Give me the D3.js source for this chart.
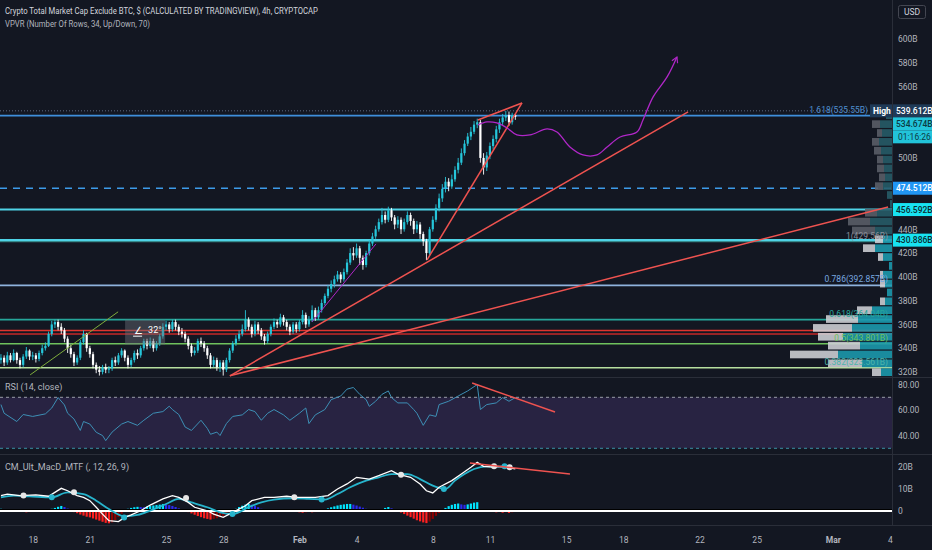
<!DOCTYPE html>
<html>
<head>
<meta charset="utf-8">
<script src="https://cdn.jsdelivr.net/npm/d3@7"></script>
<style>
html, body { margin: 0; padding: 0; background: #131722; }
svg { display: block; font-family: "Roboto", "Noto Sans", sans-serif; }
</style>
</head>
<body>
<svg id="chart" width="932" height="550"></svg>
<script>
// ---- data (4h candles, TOTAL2, Jan 16 - Feb 12 2021) ----
var firstCandle = new Date(2021, 0, 16, 8);
var firstOpen = 330;
var closes = [332,328,334,330,
  336,330,326,333,338,333, 334,331,336,340,342,352, 360,362,358,355,348,340,
  335,328,332,345,352,340, 335,326,322,320,324,322, 323,330,328,334,338,332,
  326,330,336,334,340,346, 342,346,340,344,350,358, 360,356,362,358,354,352,
  348,342,336,338,346,344, 340,334,326,330,324,328, 322,330,338,344,348,352,
  356,364,358,352,360,355, 350,346,352,358,362,360, 366,362,358,354,360,356,
  362,368,360,364,372,366, 372,378,384,390,394,398, 402,398,404,412,420,418,
  424,416,410,420,428,434, 440,446,452,448,456,450, 444,448,440,446,452,447,
  440,444,436,430,420,440, 448,458,466,474,480,476, 482,490,496,504,512,518,
  522,528,530,500,492,502, 510,516,524,530,534,536, 530,536,534.67];
var highs = [335,334,337,336,
  339,337,332,335,341,339, 337,336,338,343,345,354, 363,364,364,361,357,350,
  343,337,334,347,355,353, 342,337,328,325,326,327, 325,332,333,336,340,339,
  334,332,338,339,342,348, 348,349,348,346,352,361, 363,362,364,364,360,357,
  354,350,344,341,348,349, 346,342,336,333,332,330, 330,332,340,346,351,355,
  360,372,366,360,363,362, 357,352,354,360,365,364, 369,368,364,360,362,362,
  364,372,370,367,376,374, 375,381,386,393,397,401, 405,404,407,415,424,425,
  428,426,418,422,431,437, 443,449,458,455,459,458, 452,451,450,449,455,454,
  449,447,446,438,432,442, 451,461,470,478,484,483, 486,493,500,508,515,521,
  526,531,533,532,504,505, 513,519,527,533,537,539.6, 539,538,537];
var lows = [327,325,326,328,
  329,327,323,324,331,330, 330,328,329,334,338,341, 350,357,355,352,345,336,
  332,325,326,330,343,337, 332,323,319,317,318,319, 319,321,325,326,332,329,
  323,324,328,331,332,338, 339,340,337,338,342,348, 355,353,354,355,351,349,
  345,339,333,334,336,341, 337,331,323,324,321,320, 317,320,328,336,342,346,
  350,354,355,349,350,352, 347,343,344,350,356,357, 358,359,355,351,352,353,
  354,360,357,358,362,363, 364,370,376,382,387,391, 396,395,396,402,410,414,
  416,410,406,408,418,426, 432,438,444,445,446,447, 440,441,436,438,444,443,
  436,437,432,426,414,418, 438,446,455,463,471,472, 474,480,487,494,502,510,
  515,520,525,496,486,489, 499,507,513,521,527,531, 527,528,532];

// price scale ticks (the ones not hidden behind tags) / time ticks
var priceTicks = [600,580,560,500,440,420,400,380,360,340,320];
var timeTicks = [new Date(2021,0,18), new Date(2021,0,21), new Date(2021,0,25), new Date(2021,0,28),
  new Date(2021,1,1), new Date(2021,1,4), new Date(2021,1,8), new Date(2021,1,11), new Date(2021,1,15),
  new Date(2021,1,18), new Date(2021,1,22), new Date(2021,1,25), new Date(2021,2,1), new Date(2021,2,4)];

// horizontal levels (fib + drawn lines)
var levelPrices = [535.55, 474.512, 456.592, 430.886, 429.56, 392.857, 364.04, 354.9, 351.9, 343.801, 323.561];
var levelColors = ["#3f8fdc","#3d9be9","#4fd3e6","#4fd3e6","#3fa7a7","#8fb3de","#26a69a","#e0352f","#c62828","#6fc25d","#b7e0a0"];
var fibTexts = ["1.618(535.55B)", "1(429.56B)", "0.786(392.857B)", "0.618(364.04B)", "0.5(343.801B)", "0.382(323.561B)"];
var fibPrices = [535.55, 429.56, 392.857, 364.04, 343.801, 323.561];
var fibColors = ["#4f8fd0", "#8a8f99", "#79a9e0", "#26a69a", "#6fc25d", "#4db6ac"];

// right scale tags
var tagPrices = [539.612, 534.674, 474.512, 456.592, 430.886];
var tagTexts = ["539.612B", "534.674B", "474.512B", "456.592B", "430.886B"];
var tagBg = ["#1f3a57", "#22c4da", "#2196f3", "#18e3f2", "#18e3f2"];
var tagFg = ["#ffffff", "#0c3b44", "#ffffff", "#0b2b30", "#0b2b30"];

// drawings: [candle index, price]
var trendA = [[72.1, 316.8], [216.4, 538.7]];
var trendB = [[72.1, 316.8], [279.4, 458.8]];
var trendC = [[134.2, 414.3], [164.1, 546.2]];
var trendD = [[150.2, 531.9], [164.1, 546.2]];
var rallyLine = [[98, 362.2], [118.1, 427.7]];
var greenLine = [[9.2, 317.6], [36.9, 370.6]];
var forecast = [[150.2,527.7],[153.1,530.3],[156.2,529.4],[159.4,525.2],[162.5,519.3],[166.6,519.3],
  [172,524.4],[175.1,521.8],[179.2,509.2],[183.3,502.5],[187.7,502.5],[190.9,509.2],[195,517.6],
  [200.3,521.8],[202.2,531.9],[205.4,551.3],[209.8,568.1],[212.9,584.9]];

// volume profile, rows from top (539.6) downwards
var vpHigh = 539.6, vpLow = 286.3;
var vpUp =   [6,12,10,13,11,9,8,7,9,5, 2,15,22,17,9,17,9,3,9,7, 5,7,20,34,40,49,32,54,30,11, 6,3,2,1];
var vpDown = [0,8,5,7,7,6,7,6,8,0, 0,12,22,23,8,12,5,0,3,5, 0,5,15,32,39,25,32,48,34,9, 4,2,1,0];
var vpValueAreaStart = 14;

// RSI(14)
var rsiIdx = [0,1,5,7,10,14,16,18,20,21,23,25,26,28,30,32,33,35,38,40,43,45,48,51,53,54,56,58,60,63,
  65,66,68,69,71,73,76,78,80,82,84,86,89,91,94,96,97,99,102,104,107,109,111,113,115,116,118,120,122,123,
  125,128,130,131,133,135,137,138,141,144,147,150,151,153,156,158,160,162];
var rsiVal = [64.3,57.5,51,56.5,55,57,61.6,69.8,64,57.5,53,44,51,49,42.6,40,36,42.7,49,51,
  48,52,57.5,58.8,63,60.4,56.5,46.7,44,52,45.6,41,42.7,40,49.4,55,56.2,60.4,58.8,52,
  57.5,60.4,56.2,52,57.5,61.6,49.4,56.2,60.4,68.2,71,76.4,77.7,72.3,68.2,62.9,66.9,72.3,75,69.8,
  65.6,65.6,60.4,57.5,48,56.2,55,64.3,66.9,71,75,80,60.4,64.3,65.6,69.8,66.9,69.8];
var rsiTrend = [[148.4, 81.2], [174.5, 58.5]];

// CM_Ult_MacD_MTF (values in B)
var macdIdx = [0,2,6,11,15,19,21,24,26,28,30,32,34,37,39,41,44,47,51,54,56,59,61,65,67,70,73,77,79,83,
  86,90,93,96,99,103,106,109,112,116,119,123,125,129,132,134,136,138,142,145,148,150,152,155,158,161,162];
var macdVal = [7.0,7.7,7.0,7.3,6.7,10.3,9.2,7.0,6.2,4.7,1.7,-1.4,-4.4,-4.8,-2.9,-1.8,0.1,2.7,5.5,7.0,
  6.2,3.9,1.7,0.1,-1.4,-2.9,-0.6,2.4,4.7,6.2,6.2,6.7,6.2,6.2,6.2,7.0,10.0,12.3,15.3,14.5,
  16.1,18.3,16.8,15.3,12.3,9.2,8.2,10.8,13.8,16.8,19.9,22.1,20.3,19.9,20.3,19.4,19.2];
var sigIdx = [0,4,9,16,21,26,30,34,39,43,47,52,56,60,65,69,73,78,82,86,92,97,102,106,110,115,119,123,128,132,
  136,140,143,146,149,153,156,159,161];
var sigVal = [6.2,7.0,6.7,6.2,8.5,7.7,4.7,0.9,-2.4,-1.8,0.15,3.2,5.5,3.9,1.7,-0.6,-1.4,1.7,3.9,5.2,
  5.8,5.5,5.2,7.7,10.8,13.8,15.3,16.8,16.8,14.5,11.5,10.0,13.8,16.8,19.1,20.3,20.3,20.0,19.7];
var hist = [1.0,0.9,0.8,0.6,0.4, 0.2,-0.1, -0.4,-0.6,-0.5,-0.4,-0.3, -0.2,0.1,0.3,0.6,1.0,
  1.4,1.9,2.3,1.8,1.1,0.5,
  -0.5,-1.0,-1.6,-2.1,-2.6,-2.9,-3.4,-3.9,-4.4,-4.9,-5.4,-5.6,-5.2,-4.1,-2.7,-1.2,
  0.6,1.0,1.4,1.7,1.9,1.8,1.7,2.0,2.3,2.5,2.7,2.9,3.2,3.0,2.7,2.3,1.8,1.2,0.7,0.2,
  -0.5,-1.1,-1.7,-2.3,-2.8,-3.3,-3.6,-3.9,-3.6,-3.3,-2.8,-2.2,-1.4,-0.6,
  0.4,1.0,1.8,2.4,2.9,3.2,2.9,2.4,1.7,1.0,
  0.9,0.5,0.3,0.4,0.6,0.5,0.3,0.2,0.1,0.0,
  -0.4,-0.6,-0.8,-0.6,-0.4,-0.6,-0.5,-0.3,-0.1,
  0.6,1.2,1.7,2.1,2.5,2.8,3.0,3.2,3.2,2.9,2.5,2.0,1.5,1.0,
  0.8,0.4,0.2,0.4,0.8, 1.4,1.8,1.2, 0.4,-0.2,
  -0.7,-1.4,-2.1,-2.8,-3.5,-4.2,-4.7,-5.2,-5.5,-4.8,-3.6,-2.2,-0.9,
  0.6,1.4,2.2,2.8,3.2,3.4,3.0,2.8,3.0,3.4,3.8,4.0,
  0.4,0.2,0.1,0.0,-0.2, -0.6,-0.4,-0.8,-0.5,-0.9,-0.6,-0.4];
var crossIdx = [7.1,16,23,38.8,58.3,72.9,92.4,101,126,139.5,155.3,158.6,160.2];
var crossVal = [7.0,6.2,8.5,-2.9,5.9,-1.4,6.2,5.2,16.5,10.0,20.3,20.3,19.9];
var crossWhite = [1,0,1,0,1,0,1,0,1,0,1,0,1];
var macdTrend = [[147.7, 21.8], [179.2, 16.8]];

// ---- layout ----
var W = 932, H = 550, plotRight = 892;
var mainBottom = 377, rsiTop = 378, rsiBottom = 454, macdTop = 455, macdBottom = 525;
var H4 = 4 * 3600 * 1000;
var UP = "#26c6da", DOWN = "#ffffff", RED = "#ef5350", GRID = "#2a2e39", TXT = "#b2b5be";

var x = d3.scaleTime().domain([new Date(2021,0,18), new Date(2021,2,4)]).range([32.7, 890]);
function xi(i) { return x(new Date(firstCandle.getTime() + i * H4)); }
var y = d3.scaleLinear().domain([320, 600]).range([372, 39]);
var yR = d3.scaleLinear().domain([30, 70]).range([448.3, 397.3]);
var yM = d3.scaleLinear().domain([0, 20]).range([511, 467]);

var svg = d3.select("#chart");
svg.append("rect").attr("width", W).attr("height", H).attr("fill", "#131722");

var defs = svg.append("defs");
function clip(id, y0, y1) {
  defs.append("clipPath").attr("id", id).append("rect")
    .attr("x", 0).attr("y", y0).attr("width", plotRight).attr("height", y1 - y0);
}
clip("clipMain", 0, mainBottom);
clip("clipRsi", rsiTop, rsiBottom);
clip("clipMacd", macdTop, macdBottom);
defs.append("marker").attr("id", "arrow").attr("viewBox", "0 0 10 10")
  .attr("refX", 8).attr("refY", 5).attr("markerWidth", 6).attr("markerHeight", 6)
  .attr("orient", "auto-start-reverse")
  .append("path").attr("d", "M1,1 L8,5 L1,9").attr("fill", "none").attr("stroke", "#b027c8").attr("stroke-width", 1.5);

// pane separators
[mainBottom + 0.5, rsiBottom + 0.5, macdBottom + 0.5].forEach(function (yy) {
  svg.append("line").attr("x1", 0).attr("x2", W).attr("y1", yy).attr("y2", yy).attr("stroke", GRID);
});
svg.append("line").attr("x1", plotRight + 0.5).attr("x2", plotRight + 0.5)
  .attr("y1", 0).attr("y2", macdBottom).attr("stroke", GRID);

// ---- main pane ----
var main = svg.append("g").attr("clip-path", "url(#clipMain)");
var pxLine = d3.line().x(function (d) { return xi(d[0]); }).y(function (d) { return y(d[1]); });

// high marker (dotted) + horizontal levels
main.append("line").attr("x1", 0).attr("x2", plotRight).attr("y1", y(539.612)).attr("y2", y(539.612))
  .attr("stroke", "#5d6a80").attr("stroke-dasharray", "1,2");
main.selectAll("line.level").data(levelPrices).enter().append("line")
  .attr("class", "level")
  .attr("x1", 0).attr("x2", plotRight)
  .attr("y1", function (d) { return y(d); }).attr("y2", function (d) { return y(d); })
  .attr("stroke", function (d, i) { return levelColors[i]; })
  .attr("stroke-width", function (d, i) { return (i == 2 || i == 3) ? 2 : (i == 4 ? 1 : 1.6); })
  .attr("stroke-dasharray", function (d, i) { return i == 1 ? "7,6" : null; });

// volume profile (VPVR)
var rowH = (vpHigh - vpLow) / vpUp.length;
var vpX = d3.scaleLinear().domain([0, 100]).range([0, 100]);
var vp = main.append("g").attr("opacity", 0.88);
vpUp.forEach(function (u, i) {
  var top = y(vpHigh - i * rowH) + 0.6, bot = y(vpHigh - (i + 1) * rowH) - 0.6;
  var inVA = i >= vpValueAreaStart;
  vp.append("rect").attr("x", plotRight - vpX(u)).attr("width", vpX(u))
    .attr("y", top).attr("height", bot - top).attr("fill", inVA ? "#1c9bb0" : "#275d69");
  vp.append("rect").attr("x", plotRight - vpX(u) - vpX(vpDown[i])).attr("width", vpX(vpDown[i]))
    .attr("y", top).attr("height", bot - top).attr("fill", inVA ? "#cfd1d6" : "#5b5f69");
});

// candles
var candles = closes.map(function (c, i) {
  return { i: i, o: i ? closes[i - 1] : firstOpen, c: c, h: highs[i], l: lows[i] };
});
function candleColor(d) { return d.c >= d.o ? UP : DOWN; }
main.selectAll("line.wick").data(candles).enter().append("line").attr("class", "wick")
  .attr("x1", function (d) { return xi(d.i); }).attr("x2", function (d) { return xi(d.i); })
  .attr("y1", function (d) { return y(d.h); }).attr("y2", function (d) { return y(d.l); })
  .attr("stroke", candleColor).attr("stroke-width", 0.9);
main.selectAll("rect.body").data(candles).enter().append("rect").attr("class", "body")
  .attr("x", function (d) { return xi(d.i) - 1.1; }).attr("width", 2.2)
  .attr("y", function (d) { return y(Math.max(d.o, d.c)); })
  .attr("height", function (d) { return Math.max(0.8, Math.abs(y(d.o) - y(d.c))); })
  .attr("fill", candleColor);

// drawings
[trendA, trendB, trendC, trendD].forEach(function (t) {
  main.append("path").attr("d", pxLine(t)).attr("stroke", RED).attr("stroke-width", 1.5).attr("fill", "none");
});
main.append("path").attr("d", pxLine(greenLine)).attr("stroke", "#7fae3c").attr("stroke-width", 1).attr("fill", "none");
main.append("path").attr("d", pxLine(rallyLine)).attr("stroke", "#b027c8").attr("stroke-width", 1).attr("fill", "none");
main.append("path").attr("d", pxLine.curve(d3.curveCatmullRom.alpha(0.5))(forecast))
  .attr("stroke", "#b027c8").attr("stroke-width", 1.3).attr("fill", "none").attr("marker-end", "url(#arrow)");
pxLine.curve(d3.curveLinear);

// angle tool box
var ax0 = xi(39.1), ax1 = xi(51.7), ay0 = y(364), ay1 = y(343);
main.append("rect").attr("x", ax0).attr("y", ay0).attr("width", ax1 - ax0).attr("height", ay1 - ay0)
  .attr("fill", "#6a6e78").attr("opacity", 0.45);
main.append("text").attr("x", ax0 + 9).attr("y", ay0 + 14).attr("fill", "#ffffff")
  .attr("font-size", 10).text("∠");
main.append("line").attr("x1", ax0 + 8).attr("x2", ax0 + 17).attr("y1", ay0 + 16.5).attr("y2", ay0 + 16.5)
  .attr("stroke", "#ffffff").attr("stroke-width", 1);
main.append("text").attr("x", ax0 + 23).attr("y", ay0 + 13).attr("fill", "#ffffff")
  .attr("font-size", 9).text("32°");

// fib labels (the 1.618 one stops where the High tag starts)
main.selectAll("text.fib").data(fibPrices).enter().append("text").attr("class", "fib")
  .attr("x", function (d, i) { return i == 0 ? plotRight - 24 : plotRight - 4; })
  .attr("y", function (d) { return y(d) - 3; })
  .attr("text-anchor", "end").attr("font-size", 8.5)
  .attr("fill", function (d, i) { return fibColors[i]; })
  .text(function (d, i) { return fibTexts[i]; });

// price axis
var yAxis = d3.axisRight(y).tickValues(priceTicks).tickSize(0).tickPadding(6)
  .tickFormat(function (d) { return d + "B"; });
var ya = svg.append("g").attr("transform", "translate(" + plotRight + ",0)").call(yAxis);
ya.select(".domain").remove();
ya.selectAll("text").attr("fill", TXT).attr("font-size", 8.5).attr("font-family", "Roboto, sans-serif");

// price tags on the scale (stacked when they overlap)
var tagH = 13, lastBottom = -100;
tagPrices.forEach(function (p, i) {
  var cy = Math.max(y(p), lastBottom + tagH / 2);
  var g = svg.append("g");
  g.append("rect").attr("x", plotRight + 1).attr("y", cy - tagH / 2).attr("width", W - plotRight - 1).attr("height", tagH)
    .attr("fill", tagBg[i]);
  g.append("text").attr("x", plotRight + 4).attr("y", cy + 3.2).attr("font-size", 8.5).attr("font-weight", 500)
    .attr("fill", tagFg[i]).text(tagTexts[i]);
  if (i == 0) {
    g.append("rect").attr("x", plotRight - 22).attr("y", cy - tagH / 2).attr("width", 22).attr("height", tagH).attr("fill", tagBg[i]);
    g.append("text").attr("x", plotRight - 19).attr("y", cy + 3.2).attr("font-size", 8.5).attr("font-weight", 700)
      .attr("fill", "#ffffff").text("High");
  }
  lastBottom = cy + tagH / 2;
  if (i == 1) {
    var ty = lastBottom + tagH / 2;
    g.append("rect").attr("x", plotRight + 1).attr("y", ty - tagH / 2).attr("width", W - plotRight - 1).attr("height", tagH)
      .attr("fill", tagBg[i]);
    g.append("text").attr("x", plotRight + 6).attr("y", ty + 3.2).attr("font-size", 8.5)
      .attr("fill", tagFg[i]).text("01:16:26");
    lastBottom = ty + tagH / 2;
  }
});

// USD badge
svg.append("rect").attr("x", 898.5).attr("y", 5.5).attr("width", 27).attr("height", 13).attr("rx", 2)
  .attr("fill", "#131722").attr("stroke", "#434651");
svg.append("text").attr("x", 912).attr("y", 15).attr("text-anchor", "middle").attr("font-size", 8.5)
  .attr("fill", "#d1d4dc").text("USD");

// titles
svg.append("text").attr("x", 5).attr("y", 14).attr("font-size", 9.5).attr("fill", "#d1d4dc")
  .attr("textLength", 313).attr("lengthAdjust", "spacingAndGlyphs")
  .text("Crypto Total Market Cap Exclude BTC, $ (CALCULATED BY TRADINGVIEW), 4h, CRYPTOCAP");
svg.append("text").attr("x", 5).attr("y", 27).attr("font-size", 9).attr("fill", TXT)
  .attr("textLength", 145).attr("lengthAdjust", "spacingAndGlyphs")
  .text("VPVR (Number Of Rows, 34, Up/Down, 70)");

// ---- RSI pane ----
var rsi = svg.append("g").attr("clip-path", "url(#clipRsi)");
rsi.append("rect").attr("x", 0).attr("width", plotRight).attr("y", yR(70)).attr("height", yR(30) - yR(70))
  .attr("fill", "#7e57c2").attr("opacity", 0.2);
rsi.append("line").attr("x1", 0).attr("x2", plotRight).attr("y1", yR(70)).attr("y2", yR(70))
  .attr("stroke", "#9a9ea8").attr("stroke-dasharray", "3,3");
rsi.append("line").attr("x1", 0).attr("x2", plotRight).attr("y1", yR(30)).attr("y2", yR(30))
  .attr("stroke", "#3a8fa3").attr("stroke-dasharray", "3,3");
var rsiLine = d3.line().x(function (d, i) { return xi(rsiIdx[i]); }).y(function (d) { return yR(d); });
rsi.append("path").attr("d", rsiLine(rsiVal)).attr("fill", "none").attr("stroke", "#3d8fb5").attr("stroke-width", 1);
var trendLineR = d3.line().x(function (d) { return xi(d[0]); }).y(function (d) { return yR(d[1]); });
rsi.append("path").attr("d", trendLineR(rsiTrend)).attr("stroke", RED).attr("stroke-width", 1.5);
svg.append("text").attr("x", 5).attr("y", 390).attr("font-size", 9).attr("fill", TXT).text("RSI (14, close)");
var rAxis = d3.axisRight(yR).tickValues([80, 60, 40]).tickSize(0).tickPadding(6)
  .tickFormat(function (d) { return d.toFixed(2); });
var ra = svg.append("g").attr("transform", "translate(" + plotRight + ",0)").call(rAxis);
ra.select(".domain").remove();
ra.selectAll("text").attr("fill", TXT).attr("font-size", 8.5).attr("font-family", "Roboto, sans-serif");

// ---- MACD pane ----
var macd = svg.append("g").attr("clip-path", "url(#clipMacd)");
macd.selectAll("rect.hist").data(hist).enter().append("rect").attr("class", "hist")
  .attr("x", function (d, i) { return xi(i) - 1.1; }).attr("width", 2.2)
  .attr("y", function (d) { return Math.min(yM(d), yM(0)); })
  .attr("height", function (d) { return Math.abs(yM(d) - yM(0)); })
  .attr("fill", function (d, i) {
    var prev = i ? hist[i - 1] : d;
    if (d >= 0) return d >= prev ? "#00e5ff" : "#2a2af0";
    return d <= prev ? "#ff2020" : "#8b0000";
  });
macd.append("line").attr("x1", 0).attr("x2", plotRight).attr("y1", yM(0) - 1.5).attr("y2", yM(0) - 1.5)
  .attr("stroke", "#000000").attr("stroke-width", 1);
macd.append("line").attr("x1", 0).attr("x2", plotRight).attr("y1", yM(0)).attr("y2", yM(0))
  .attr("stroke", "#ffffff").attr("stroke-width", 2);
var sigLine = d3.line().x(function (d, i) { return xi(sigIdx[i]); }).y(function (d) { return yM(d); })
  .curve(d3.curveMonotoneX);
var macdLine = d3.line().x(function (d, i) { return xi(macdIdx[i]); }).y(function (d) { return yM(d); });
macd.append("path").attr("d", sigLine(sigVal)).attr("fill", "none").attr("stroke", "#27b4cc").attr("stroke-width", 1.8);
macd.append("path").attr("d", macdLine(macdVal)).attr("fill", "none").attr("stroke", "#ffffff").attr("stroke-width", 1.3);
macd.selectAll("circle.cross").data(crossVal).enter().append("circle").attr("class", "cross")
  .attr("cx", function (d, i) { return xi(crossIdx[i]); }).attr("cy", function (d) { return yM(d); })
  .attr("r", 3).attr("fill", function (d, i) { return crossWhite[i] ? "#e6e6e6" : "#27b4cc"; });
var trendLineM = d3.line().x(function (d) { return xi(d[0]); }).y(function (d) { return yM(d[1]); });
macd.append("path").attr("d", trendLineM(macdTrend)).attr("stroke", RED).attr("stroke-width", 1.5);
svg.append("text").attr("x", 5).attr("y", 470).attr("font-size", 9).attr("fill", TXT).text("CM_Ult_MacD_MTF (, 12, 26, 9)");
var mAxis = d3.axisRight(yM).tickValues([20, 10, 0]).tickSize(0).tickPadding(6)
  .tickFormat(function (d) { return d ? d + "B" : "0"; });
var ma = svg.append("g").attr("transform", "translate(" + plotRight + ",0)").call(mAxis);
ma.select(".domain").remove();
ma.selectAll("text").attr("fill", TXT).attr("font-size", 8.5).attr("font-family", "Roboto, sans-serif");

// ---- time axis ----
var monthName = d3.timeFormat("%b");
var xAxis = d3.axisBottom(x).tickValues(timeTicks).tickSize(0).tickPadding(12)
  .tickFormat(function (d) { return d.getDate() == 1 ? monthName(d) : d.getDate(); });
var xa = svg.append("g").attr("transform", "translate(0," + macdBottom + ")").call(xAxis);
xa.select(".domain").remove();
xa.selectAll("text").attr("fill", TXT).attr("font-size", 8.5).attr("font-family", "Roboto, sans-serif")
  .attr("font-weight", function (d) { return d.getDate() == 1 ? 700 : 400; });
</script>
</body>
</html>
